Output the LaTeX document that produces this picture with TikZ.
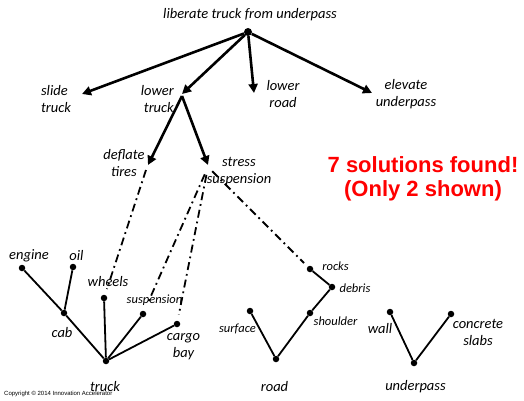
\documentclass[tikz,border=0pt]{standalone}
\usepackage{fontspec}
\setmainfont{Carlito}
\newfontfamily\arialfont{Liberation Sans}
\usetikzlibrary{arrows.meta}
\begin{document}
\begin{tikzpicture}[x=1pt,y=-1pt,
  lab/.style={font=\fontsize{14.5}{17}\selectfont\itshape, inner sep=0pt, align=center},
  slab/.style={font=\fontsize{12.5}{15}\selectfont\itshape, inner sep=0pt, align=center},
  bigdot/.style={circle, fill, inner sep=0pt, minimum size=8pt},
  dotn/.style={circle, fill, inner sep=0pt, minimum size=6.5pt},
  arr/.style={line width=2.6pt, -{Triangle[length=9pt,width=9pt]}},
  tree/.style={line width=1.8pt},
  dd/.style={line width=1.8pt, dash pattern=on 8pt off 4pt on 1.8pt off 4pt},
  red/.style={font=\arialfont\bfseries\fontsize{22}{24}\selectfont, text=red, align=center, inner sep=0pt}]
\useasboundingbox (0,0) rectangle (524,401);
% top tree
\node[bigdot] (root) at (248,32) {};
\node[lab] (rootlab) at (250,15) {liberate truck from underpass};
\coordinate (slideE) at (82,94);
\coordinate (lowtE) at (182,94);
\coordinate (lowrE) at (254,93);
\coordinate (elevE) at (372,93);
\coordinate (ltS) at (182,96);
\coordinate (deflE) at (148,165);
\coordinate (stressE) at (208,165);
\coordinate (ssS) at (208,167);
\coordinate (dtS) at (146,170);
\draw[arr] (root) -- (slideE);
\draw[arr] (root) -- (lowtE);
\draw[arr] (root) -- (lowrE);
\draw[arr] (root) -- (elevE);
\draw[arr] (ltS) -- (deflE);
\draw[arr] (ltS) -- (stressE);
\node[lab, align=left] (slide) at (56,99.5) {slide\\truck};
\node[lab, align=right, anchor=east] (lowtruck) at (174,99.5) {lower\\truck};
\node[lab] (lowroad) at (283,94.5) {lower\\road};
\node[lab] (elev) at (406,94.5) {elevate\\underpass};
\node[lab] (deflate) at (124,163.5) {deflate\\tires};
\node[lab] (stress) at (239,171.5) {stress\\suspension};
\node[red] (sol) at (423,179) {7 solutions found!\\(Only 2 shown)};
% truck tree
\node[dotn] (engine) at (22,268) {};
\node[dotn] (oil) at (73,267) {};
\node[dotn] (cab) at (64,313) {};
\node[dotn] (wheels) at (104,298) {};
\node[dotn] (susp) at (143,314) {};
\node[dotn] (cargo) at (177,324) {};
\node[dotn] (truck) at (106,361) {};
\draw[tree] (engine) -- (cab);
\draw[tree] (oil) -- (cab);
\draw[tree] (cab) -- (truck);
\draw[tree] (wheels) -- (truck);
\draw[tree] (susp) -- (truck);
\draw[tree] (cargo) -- (truck);
\node[lab] (enginel) at (29,256) {engine};
\node[lab] (oill) at (76.5,256) {oil};
\node[lab] (wheelsl) at (108,282) {wheels};
\node[slab] (suspl) at (154.5,300) {suspension};
\node[lab] (cabl) at (62,333) {cab};
\node[lab] (cargol) at (183.5,346.5) {cargo\\bay};
\node[lab] (truckl) at (105,387) {truck};
% road tree
\node[dotn] (rocks) at (310,269) {};
\node[dotn] (debris) at (332,287) {};
\node[dotn] (shoulder) at (310,313) {};
\node[dotn] (surface) at (250,311) {};
\node[dotn] (road) at (276,359) {};
\draw[tree] (rocks) -- (debris);
\draw[tree] (debris) -- (shoulder);
\draw[tree] (shoulder) -- (road);
\draw[tree] (surface) -- (road);
\node[slab] (rocksl) at (335.5,266) {rocks};
\node[slab] (debrisl) at (355,288) {debris};
\node[slab] (shoulderl) at (335.5,321) {shoulder};
\node[slab] (surfacel) at (237.5,329) {surface};
\node[lab] (roadl) at (274.5,387) {road};
% underpass tree
\node[dotn] (wall) at (390,312) {};
\node[dotn] (concrete) at (451,314) {};
\node[dotn] (under) at (414,363) {};
\draw[tree] (wall) -- (under);
\draw[tree] (concrete) -- (under);
\node[lab] (walll) at (380,329) {wall};
\node[lab] (concretel) at (478,332) {concrete\\slabs};
\node[lab] (underl) at (415.5,387) {underpass};
% dash-dot links
\draw[dd, shorten >=6pt] (dtS) -- (wheels);
\draw[dd, shorten <=8pt, shorten >=8pt] (ssS) -- (susp);
\draw[dd, shorten <=8pt, shorten >=6pt] (ssS) -- (cargo);
\draw[dd, shorten <=6pt, shorten >=5pt] (ssS) -- (rocks);
% copyright
\node[font=\arialfont\fontsize{6}{7}\selectfont, anchor=west, inner sep=0pt] (copy) at (4,394) {Copyright \textcopyright{} 2014 Innovation Accelerator};
\end{tikzpicture}
\end{document}
